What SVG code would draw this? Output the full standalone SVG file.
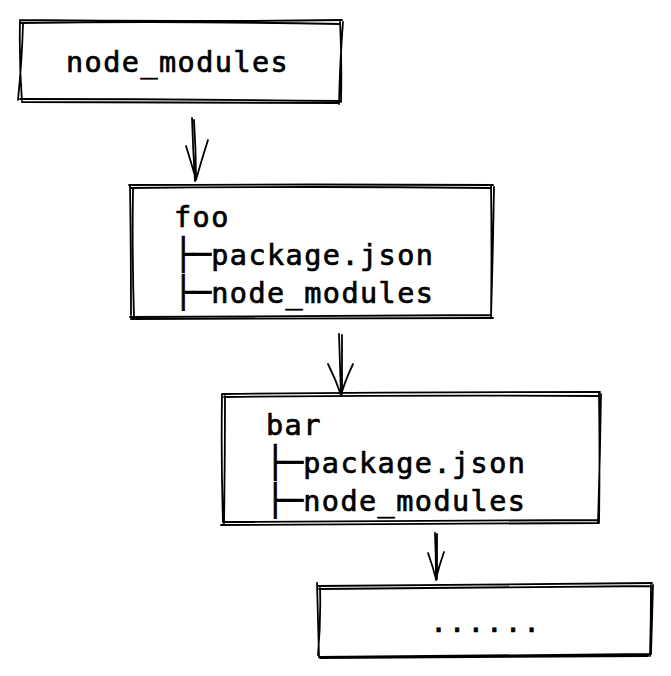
<svg xmlns="http://www.w3.org/2000/svg" width="671" height="676" viewBox="0 0 671 676">
<style>
.s{fill:none;stroke:#000;stroke-width:1.8;stroke-linecap:round;stroke-linejoin:round}
.t{font-family:"DejaVu Sans Mono","Liberation Mono",monospace;font-size:28.5px;letter-spacing:1.44px;fill:#000;stroke:#000;stroke-width:0.7}
.b{font-size:30.9px;letter-spacing:0}
</style>
<rect width="671" height="676" fill="#fff"/>
<g id="node1">
<path class="s" d="M20 20 Q180 22 342 20 M21 23 Q180 21 340 24 M340 20 Q342 60 341 102 M343 22 Q340 60 339 104 M341 101 Q180 99 20 99 M338 103 Q180 102 22 102 M20 20 Q19 60 22 102 M23 24 Q22 60 18 100"/>
<text class="t" x="66" y="72">node_modules</text>
</g>
<g id="node2">
<path class="s" d="M129 185 Q310 184 493 185 M130 188 Q310 186 491 188 M491 185 Q492 250 491 318 M494 187 Q493 250 491 316 M491 315 Q310 316 130 317 M493 318 Q310 318 131 319 M130 186 Q131 250 131 315 M133 189 Q132 250 134 318"/>
<text class="t" x="174" y="227">foo</text>
<text class="t" x="174" y="265"><tspan class="b">├─</tspan>package.json</text>
<text class="t" x="174" y="303"><tspan class="b">├─</tspan>node_modules</text>
</g>
<g id="node3">
<path class="s" d="M222 394 Q410 392 600 392 M224 397 Q410 395 599 396 M599 392 Q600 460 599 523 M601 394 Q600 460 598 522 M598 520 Q410 521 224 522 M599 523 Q410 524 221 525 M222 394 Q221 460 223 522 M225 396 Q225 460 224 524"/>
<text class="t" x="266" y="435">bar</text>
<text class="t" x="266" y="473"><tspan class="b">├─</tspan>package.json</text>
<text class="t" x="266" y="511"><tspan class="b">├─</tspan>node_modules</text>
</g>
<g id="node4">
<path class="s" d="M318 586 Q485 584 652 583 M319 589 Q485 587 651 586 M651 583 Q651 620 650 656 M653 585 Q652 620 651 654 M650 654 Q485 655 319 657 M648 656 Q485 657 320 658 M317 583 Q318 620 319 657 M320 588 Q321 620 318 655"/>
<text class="t" x="430" y="632">......</text>
</g>
<g id="connectors">
<path class="s" d="M192 118 Q193 150 195 181 M194 120 Q196 150 196 179 M186 146 Q192 165 196 180 M208 140 Q201 162 196 180"/>
<path class="s" d="M339 334 Q340 365 341 396 M342 335 Q342 365 342 394 M328 364 Q336 380 341 395 M353 364 Q345 381 341 395"/>
<path class="s" d="M435 533 Q436 555 436 580 M437 534 Q437 556 437 579 M428 553 Q433 567 436 579 M444 552 Q439 566 436 579"/>
</g>
</svg>
